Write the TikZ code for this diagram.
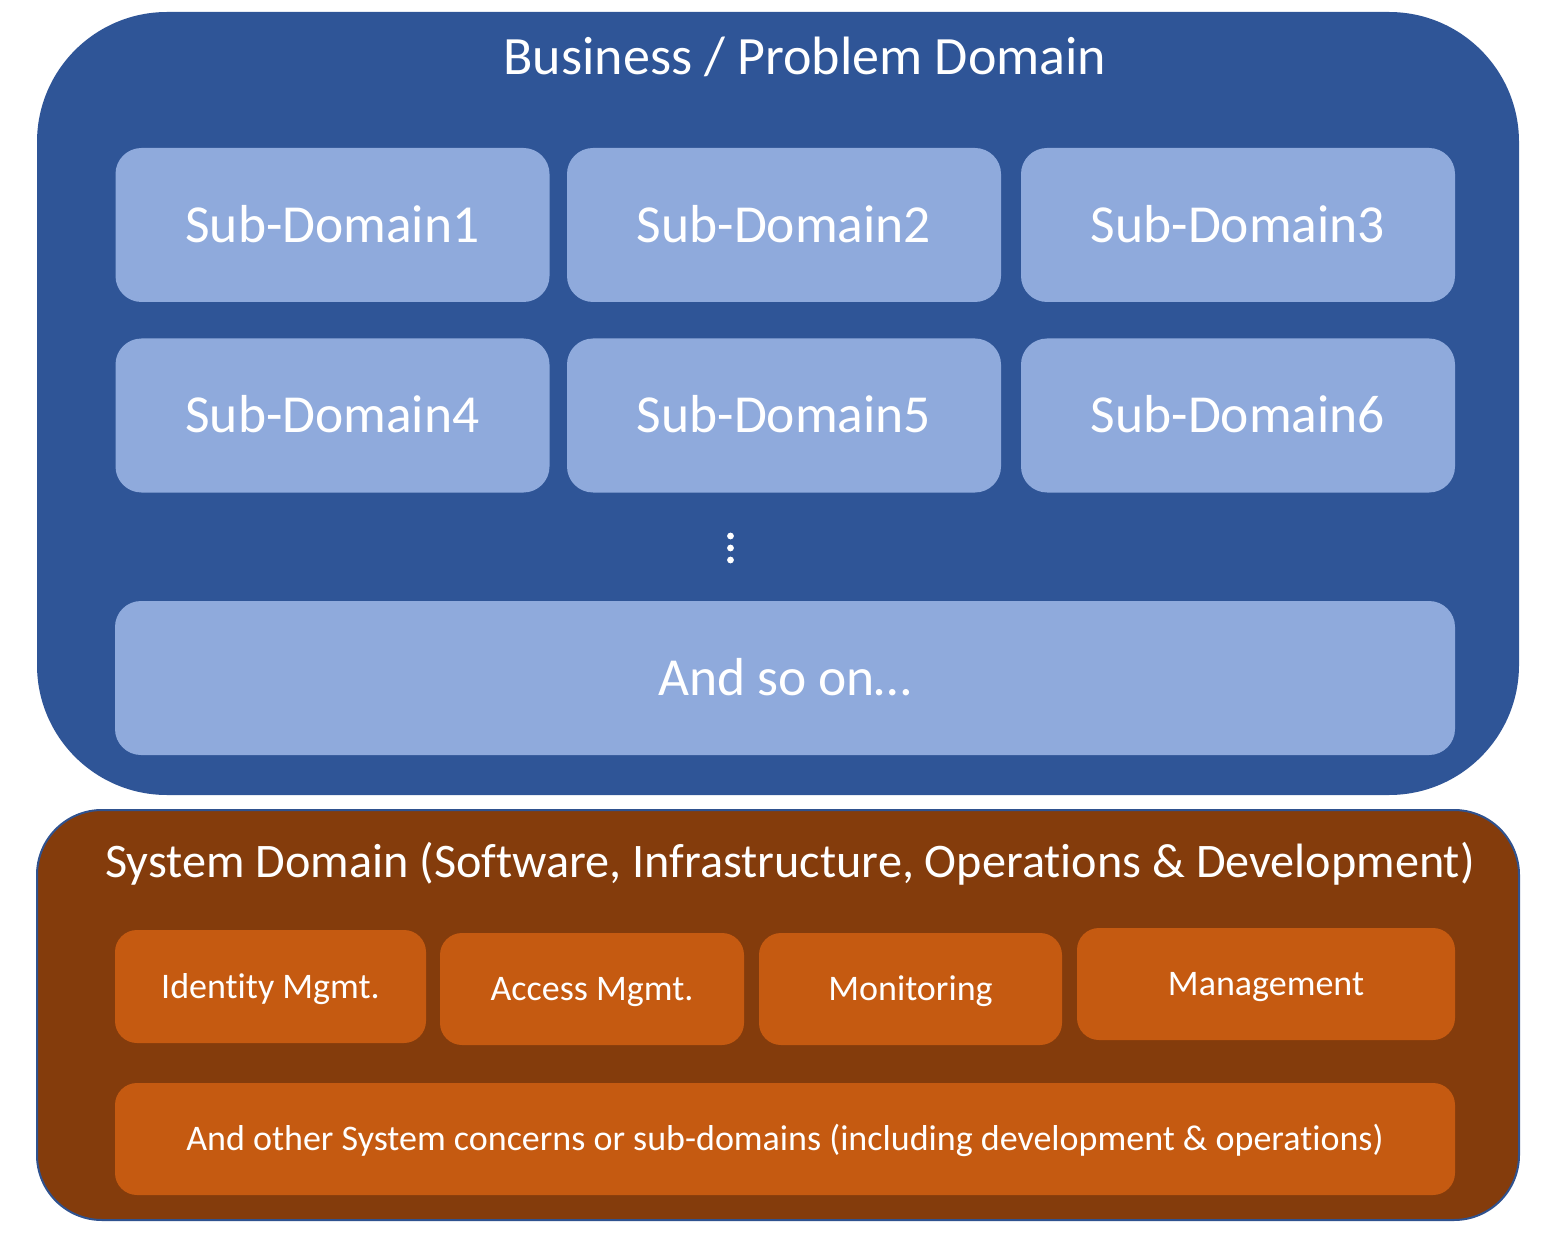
\documentclass[tikz,border=0pt]{standalone}
\usepackage{fontspec}
\setmainfont{Carlito}[Ligatures = NoCommon]
\usepackage{xcolor}
\usetikzlibrary{positioning}
\definecolor{bizblue}{HTML}{2F5597}
\definecolor{subblue}{HTML}{8FAADC}
\definecolor{sysbrown}{HTML}{843C0C}
\definecolor{sysorange}{HTML}{C55A11}
\definecolor{sysedge}{HTML}{2F528F}

\begin{document}
\begin{tikzpicture}[x = 1pt, y = -1pt,
	title/.style = {text = white, inner sep = 0pt, text depth = 0pt},
	subbox/.style = {rectangle, rounded corners = 26pt, fill = subblue, text = white, inner sep = 0pt,
		font = \fontsize{53.5}{64}\selectfont, text height = 34.5pt, text depth = 0pt},
	sysbox/.style = {rectangle, rounded corners = 22pt, fill = sysorange, text = white, inner sep = 0pt,
		font = \fontsize{36}{43}\selectfont, text height = 23.2pt, text depth = 0pt}]
	\useasboundingbox (0,0) rectangle (1556,1238);
	
	% business domain
	\fill[bizblue, rounded corners = 130pt] (37,12) rectangle (1519,795);
	\node[title, font = \fontsize{54}{65}\selectfont, text height = 34.8pt] (biztitle) at (805,57) {Business / Problem Domain};
	
	\foreach \i/\x/\y in {1/332.5/225, 2/784/225, 3/1238/225, 4/332.5/415.5, 5/784/415.5, 6/1238/415.5}
		\node[subbox, minimum width = 434pt, minimum height = 154pt] (sub\i) at (\x,\y) {Sub-Domain\i};
	
	\foreach \y in {536,548,560}
		\fill[white] (730.5,\y) circle (3.4pt);
	
	\node[subbox, minimum width = 1340pt, minimum height = 154pt] (subrest) at (785,678) {And so on\dots};
	
	% system domain
	\filldraw[fill = sysbrown, draw = sysedge, line width = 2pt, rounded corners = 65pt] (37,810) rectangle (1519,1220);
	\node[title, font = \fontsize{48.2}{58}\selectfont, text height = 31pt] (systitle) at (790,862) {System Domain (Software, Infrastructure, Operations \& Development)};
	
	\node[sysbox, minimum width = 311pt, minimum height = 113pt] (identity) at (270.5,986.5) {Identity Mgmt.};
	\node[sysbox, minimum width = 304pt, minimum height = 112pt] (access) at (592,989) {Access Mgmt.};
	\node[sysbox, minimum width = 303pt, minimum height = 112pt] (monitor) at (910.5,989) {Monitoring};
	\node[sysbox, minimum width = 378pt, minimum height = 112pt] (manage) at (1266,984) {Management};
	\node[sysbox, minimum width = 1340pt, minimum height = 112pt] (sysrest) at (785,1139) {And other System concerns or sub-domains (including development \& operations)};
\end{tikzpicture}
\end{document}
